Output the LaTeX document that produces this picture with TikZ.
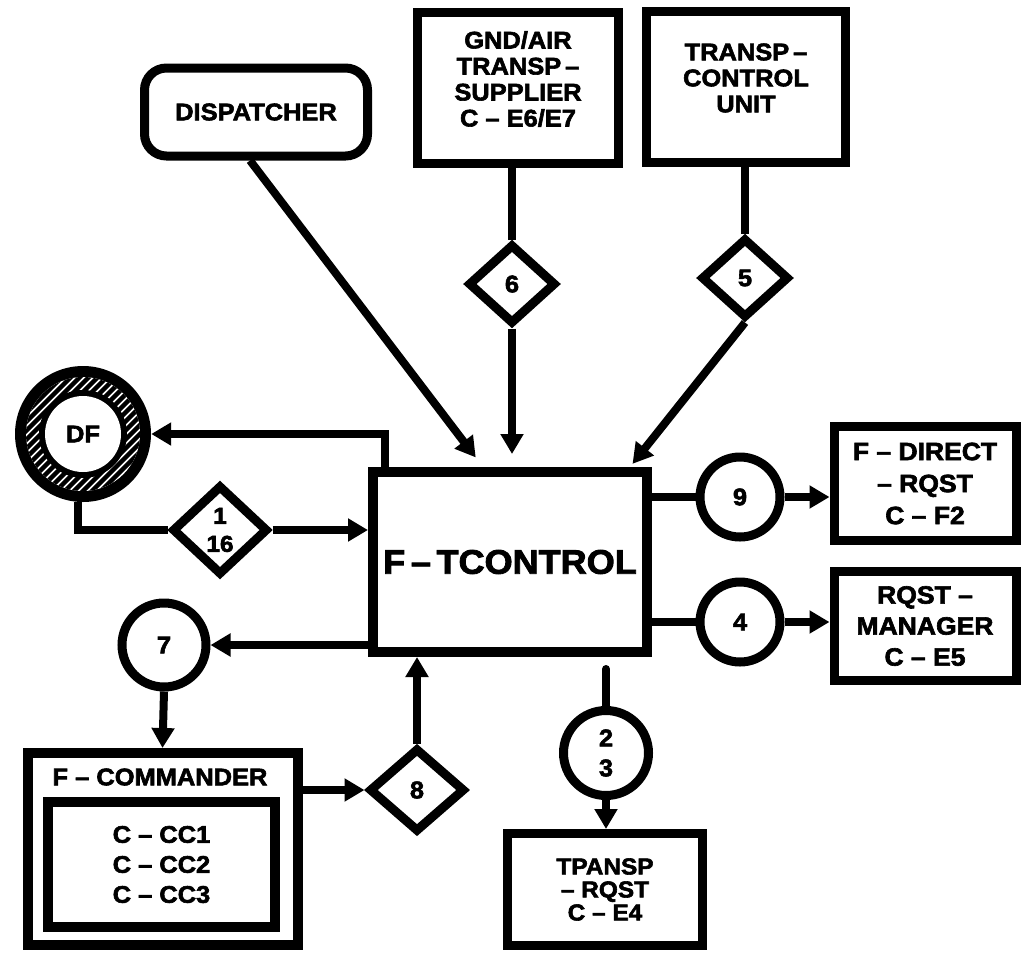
\documentclass[tikz,border=0pt]{standalone}
\usepackage{fontspec}
\setmainfont{Liberation Sans}[UprightFont={* Bold}, UprightFeatures={FakeBold=2.5}, FakeStretch=1.06]
\usetikzlibrary{arrows.meta,shapes.geometric,calc}

\begin{document}
\begin{tikzpicture}[x=1pt,y=-1pt,
  lbl/.style={font=\fontsize{24}{26}\selectfont, align=center, inner sep=0pt},
  box/.style={lbl, draw, rectangle, line width=9pt},
  circ/.style={lbl, draw, circle, line width=9pt, minimum size=80pt},
  dia/.style={lbl, draw, diamond, line width=9pt, minimum width=88pt, minimum height=80pt},
  wire/.style={line width=8pt},
  flow/.style={wire, -{Triangle[length=20pt,width=22pt]}}
]
\useasboundingbox (0,0) rectangle (1022,954);

% ---- sources along the top ----
\node[box, rounded corners=22pt, minimum width=223pt, minimum height=88pt] (disp) at (256,112) {DISPATCHER};
\node[box, minimum width=201pt, minimum height=151pt] (gnd) at (518,88) {};
\node[lbl] (gndtext) at (518,79) {GND/AIR\\TRANSP\,–\\SUPPLIER\\C – E6/E7};
\node[box, minimum width=199pt, minimum height=151pt] (tcu) at (746,87) {};
\node[lbl] (tcutext) at (746,78) {TRANSP\,–\\CONTROL\\UNIT};

\node[dia] (d6) at (512,284) {6};
\node[dia] (d5) at (745,278) {5};

% ---- central process ----
\node[lbl, draw, rectangle, line width=10pt, minimum width=274pt, minimum height=180pt,
      font=\fontsize{34}{40}\selectfont] (ftc) at (510,562) {F\,–\,TCONTROL};

% ---- data file with hatched ring ----
\coordinate (dfc) at (83,434);
\fill (dfc) circle[radius=68];
\fill[white] (dfc) circle[radius=57];
\begin{scope}
  \clip (dfc) circle[radius=57];
  \foreach \k in {-150,-141,...,150}
    \draw[line width=4.5pt] ($(dfc)+(\k-80,80)$) -- ($(dfc)+(\k+80,-80)$);
\end{scope}
\fill (dfc) circle[radius=44];
\fill[white] (dfc) circle[radius=38];
\node[lbl, circle, minimum size=136pt] (df) at (dfc) {DF};

\node[dia, minimum width=96pt, minimum height=90pt,
      font=\fontsize{23}{28}\selectfont] (d116) at (220,530) {1\\16};

% ---- left / bottom ----
\node[circ, minimum size=84pt] (c7) at (164,645) {7};
\node[box, line width=10pt, minimum width=270pt, minimum height=192pt] (fcom) at (162.5,849) {};
\node[lbl] (fcomtitle) at (160,777) {F – COMMANDER};
\node[box, line width=10pt, minimum width=227pt, minimum height=125pt,
      font=\fontsize{24}{30}\selectfont] (fcominner) at (161.5,864.5)
  {C – CC1\\C – CC2\\C – CC3};
\node[dia, minimum width=96pt, minimum height=84pt] (d8) at (417,790) {8};

\node[circ, minimum size=85pt, font=\fontsize{24}{30}\selectfont] (c23) at (606,753) {2\\3};
\node[box, minimum width=195pt, minimum height=112pt,
      font=\fontsize{23}{23}\selectfont] (tpansp) at (605,889.5)
  {TPANSP\\– RQST\\C – E4};

% ---- right side ----
\node[circ] (c9) at (740,497) {9};
\node[circ] (c4) at (740,622) {4};
\node[box, minimum width=182pt, minimum height=114pt,
      font=\fontsize{25}{32}\selectfont] (fdir) at (925,483.5)
  {F – DIRECT\\– RQST\\C – F2};
\node[box, minimum width=182pt, minimum height=109pt,
      font=\fontsize{25}{31}\selectfont] (rqst) at (925,626)
  {RQST –\\MANAGER\\C – E5};

% ---- connectors ----
\draw[flow, shorten >=12pt] ([xshift=-6pt]disp.south) -- ([xshift=-27pt]ftc.north);
\draw[wire] (d6.north |- gnd.south) -- (d6.north);
\draw[flow, shorten >=13pt] (d6.south) -- (d6.south |- ftc.north);
\draw[wire] (d5.north |- tcu.south) -- (d5.north);
\draw[flow, shorten >=4pt] (d5.south) -- ([xshift=-22pt]ftc.north east);

\draw[flow] ([xshift=-125pt]ftc.north) |- (df.east);
\draw[wire] ([xshift=-5pt]df.south) |- (d116.west);
\draw[flow] (d116.east) -- (d116.east -| ftc.west);

\draw[flow] (c7.east -| ftc.west) -- (c7.east);
\draw[flow] (c7.south) -- (fcom.north);
\draw[flow] (fcom.east |- d8.west) -- (d8.west);
\draw[flow] (d8.north) -- (d8.north |- ftc.south);

\draw[wire] (c9.west -| ftc.east) -- (c9.west);
\draw[flow] (c9.east) -- (c9.east -| fdir.west);
\draw[wire] (c4.west -| ftc.east) -- (c4.west);
\draw[flow] (c4.east) -- (c4.east -| rqst.west);
\draw[wire, line cap=round, shorten <=12pt] (c23.north |- ftc.south) -- (c23.north);
\draw[flow] (c23.south) -- (c23.south |- tpansp.north);
\end{tikzpicture}
\end{document}
